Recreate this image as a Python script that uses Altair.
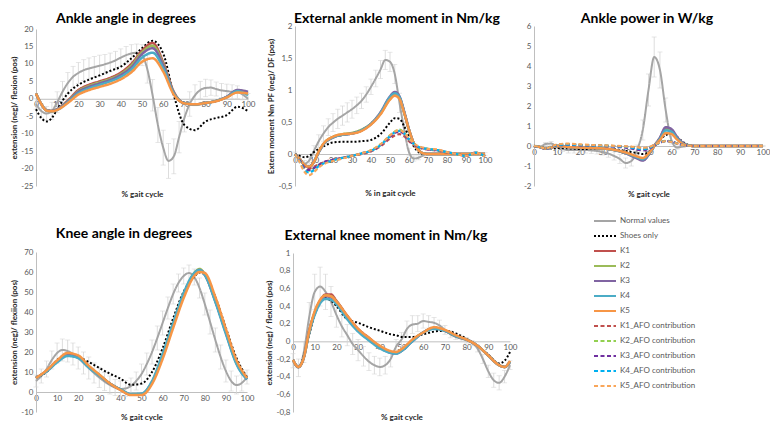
import altair as alt
import pandas as pd

# ---------------------------------------------------------------- data
SERIES = ["Normal values", "Shoes only", "K1", "K2", "K3", "K4", "K5",
          "K1_AFO contribution", "K2_AFO contribution", "K3_AFO contribution",
          "K4_AFO contribution", "K5_AFO contribution"]
K_NAMES = ["K1", "K2", "K3", "K4", "K5"]
AFO_NAMES = ["K1_AFO contribution", "K2_AFO contribution", "K3_AFO contribution",
             "K4_AFO contribution", "K5_AFO contribution"]

X_TICKS = [0, 10, 20, 30, 40, 50, 60, 70, 80, 90, 100]
X_NORMAL = [0, 2.5, 5, 7.5, 10, 12.5, 15, 17.5, 20, 22.5, 25, 27.5, 30, 32.5, 35, 37.5,
            40, 42.5, 45, 47.5, 50, 52.5, 55, 57.5, 60, 62.5, 65, 67.5, 70, 72.5, 75,
            77.5, 80, 82.5, 85, 87.5, 90, 92.5, 95, 97.5, 100]

# --- Ankle angle in degrees
AA_YTICKS = [-25, -20, -15, -10, -5, 0, 5, 10, 15, 20]
AA_NORMAL = [-1.5, -3.5, -4.2, -3.5, -1.0, 2.0, 4.5, 6.3, 7.4, 8.2, 8.7, 9.1, 9.5, 9.9, 10.4,
             11.0, 11.8, 12.5, 13.0, 13.2, 12.5, 8.5, 1.0, -7.5, -14.0, -17.8, -16.5, -11.0,
             -5.5, -1.5, 1.0, 2.5, 3.1, 3.2, 2.8, 2.4, 2.2, 2.0, 1.9, 1.2, 0.0]
AA_SD = [1.5, 2, 2, 2.5, 3, 3, 3, 3, 3, 3, 3, 3, 3, 2.8, 2.7, 2.6, 2.5, 2.5, 2.5, 2.5, 3, 4,
         4.5, 5, 5, 5, 5, 4.5, 4, 3.5, 3, 2.5, 2.5, 2.2, 2, 2, 2, 2, 1.8, 1.5, 1.5]
AA_X = [0, 2.5, 5, 7.5, 10, 15, 20, 25, 30, 35, 40, 45, 50, 55, 60, 65, 70, 75, 80, 85, 90, 95, 100]
AA_SHOES = [-3.0, -5.5, -6.5, -5.5, -3.0, 1.5, 4.0, 5.5, 6.7, 8.0, 9.2, 11.6, 14.5, 16.6, 13.0,
            1.0, -7.5, -9.0, -6.5, -5.5, -4.7, -2.3, -3.5]
AA_K1 = [1.5, -1.5, -3.3, -3.5, -3.0, -0.5, 2.5, 4.0, 5.0, 6.0, 7.5, 10.0, 13.8, 16.0, 10.5, 2.0,
         -1.3, -1.6, -1.2, -0.6, 0.5, 2.2, 1.5]
AA_K2 = [1.5, -1.5, -3.3, -3.5, -3.0, -0.7, 2.2, 3.7, 4.7, 5.7, 7.1, 9.5, 13.3, 15.2, 10.0, 1.8,
         -1.3, -1.6, -1.2, -0.6, 0.5, 2.3, 1.8]
AA_K3 = [1.5, -1.5, -3.3, -3.5, -3.0, -0.8, 2.0, 3.4, 4.4, 5.4, 6.8, 9.0, 12.8, 14.5, 9.6, 1.7,
         -1.3, -1.6, -1.2, -0.6, 0.6, 2.5, 2.0]
AA_K4 = [1.5, -1.5, -3.4, -3.6, -3.2, -1.0, 1.6, 3.0, 4.0, 5.0, 6.3, 8.4, 11.8, 13.2, 8.8, 1.5,
         -1.3, -1.6, -1.2, -0.6, 0.5, 2.2, 1.0]
AA_K5 = [1.5, -1.5, -3.4, -3.6, -3.2, -1.2, 1.2, 2.5, 3.4, 4.3, 5.6, 7.6, 10.6, 11.6, 7.8, 1.2,
         -1.3, -1.6, -1.2, -0.7, 0.4, 1.8, 1.5]

# --- External ankle moment in Nm/kg
AM_YTICKS = [-0.5, 0, 0.5, 1, 1.5, 2]
AM_NORMAL = [0, -0.08, -0.15, -0.1, 0.05, 0.2, 0.32, 0.42, 0.49, 0.55, 0.6, 0.65, 0.7, 0.76,
             0.83, 0.93, 1.05, 1.18, 1.32, 1.47, 1.44, 1.25, 0.8, 0.38, 0.03, -0.07, -0.06,
             -0.02, 0, 0, 0, 0, 0, 0, 0, 0, 0, 0, 0, 0, 0]
AM_SD = [0.03, 0.05, 0.05, 0.06, 0.08, 0.1, 0.12, 0.13, 0.14, 0.15, 0.15, 0.15, 0.14, 0.13,
         0.12, 0.12, 0.12, 0.13, 0.14, 0.15, 0.15, 0.15, 0.15, 0.12, 0.06, 0.04, 0.03, 0.02,
         0.02, 0.02, 0.02, 0.02, 0.02, 0.02, 0.02, 0.02, 0.02, 0.02, 0.02, 0.02, 0.02]
AM_X = [0, 2.5, 5, 7.5, 10, 12.5, 15, 20, 25, 30, 35, 40, 45, 50, 52.5, 55, 57.5, 60, 62.5,
        65, 67.5, 70, 75, 80, 85, 90, 95, 100]
AM_SHOES = [0, -0.03, -0.05, -0.03, 0.03, 0.08, 0.12, 0.18, 0.19, 0.19, 0.2, 0.22, 0.31, 0.49,
            0.56, 0.55, 0.43, 0.27, 0.12, 0.03, 0.0, 0, 0, 0, 0, 0, 0, 0]
AM_K1 = [0, -0.08, -0.17, -0.2, -0.12, 0.03, 0.15, 0.26, 0.3, 0.32, 0.37, 0.47, 0.64, 0.88,
         0.95, 0.88, 0.65, 0.38, 0.17, 0.06, 0.01, 0, 0, 0, 0, 0, 0, 0]
AM_K2 = [0, -0.08, -0.17, -0.2, -0.12, 0.04, 0.16, 0.27, 0.31, 0.33, 0.38, 0.47, 0.63, 0.86,
         0.93, 0.87, 0.64, 0.37, 0.17, 0.06, 0.01, 0, 0, 0, 0, 0, 0, 0]
AM_K3 = [0, -0.08, -0.17, -0.2, -0.12, 0.03, 0.15, 0.26, 0.3, 0.32, 0.37, 0.47, 0.65, 0.9,
         0.97, 0.9, 0.66, 0.38, 0.17, 0.06, 0.01, 0, 0, 0, 0, 0, 0, 0]
AM_K4 = [0, -0.08, -0.17, -0.2, -0.12, 0.03, 0.15, 0.26, 0.3, 0.32, 0.37, 0.47, 0.64, 0.89,
         0.95, 0.89, 0.65, 0.38, 0.17, 0.06, 0.01, 0, 0, 0, 0, 0, 0, 0]
AM_K5 = [0, -0.08, -0.17, -0.2, -0.12, 0.04, 0.16, 0.27, 0.31, 0.32, 0.36, 0.46, 0.62, 0.85,
         0.91, 0.86, 0.64, 0.38, 0.17, 0.06, 0.01, 0, 0, 0, 0, 0, 0, 0]
AM_AFO1 = [0, -0.1, -0.2, -0.23, -0.2, -0.16, -0.13, -0.09, -0.06, -0.03, 0.0, 0.04, 0.12, 0.24,
           0.29, 0.31, 0.28, 0.2, 0.14, 0.1, 0.08, 0.07, 0.05, 0.02, 0.0, -0.03, 0.02, -0.04]
AM_AFO2 = [0, -0.1, -0.22, -0.26, -0.22, -0.17, -0.14, -0.1, -0.06, -0.03, 0.01, 0.06, 0.15,
           0.29, 0.35, 0.38, 0.33, 0.24, 0.16, 0.11, 0.09, 0.08, 0.06, 0.03, 0.0, -0.03, 0.02, -0.04]
AM_AFO3 = [0, -0.1, -0.22, -0.25, -0.22, -0.17, -0.13, -0.09, -0.06, -0.03, 0.01, 0.05, 0.14,
           0.27, 0.33, 0.35, 0.31, 0.22, 0.15, 0.11, 0.09, 0.07, 0.06, 0.03, 0.0, -0.03, 0.02, -0.04]
AM_AFO4 = [0, -0.12, -0.25, -0.29, -0.25, -0.19, -0.15, -0.1, -0.06, -0.03, 0.01, 0.05, 0.14,
           0.28, 0.34, 0.36, 0.32, 0.23, 0.16, 0.11, 0.09, 0.08, 0.06, 0.03, 0.0, -0.03, 0.02, -0.04]
AM_AFO5 = [0, -0.13, -0.28, -0.33, -0.28, -0.21, -0.16, -0.11, -0.07, -0.03, 0.01, 0.06, 0.15,
           0.29, 0.35, 0.37, 0.33, 0.24, 0.17, 0.12, 0.1, 0.08, 0.07, 0.03, 0.0, -0.03, 0.02, -0.04]

# --- Ankle power in W/kg
AP_YTICKS = [-2, -1, 0, 1, 2, 3, 4, 5, 6]
AP_NORMAL = [0, -0.05, 0.1, 0.12, -0.05, -0.15, -0.2, -0.2, -0.2, -0.2, -0.22, -0.25, -0.3,
             -0.38, -0.5, -0.65, -0.85, -0.75, -0.2, 0.8, 2.8, 4.45, 3.8, 1.8, 0.3, -0.08,
             -0.02, 0, 0, 0, 0, 0, 0, 0, 0, 0, 0, 0, 0, 0, 0]
AP_SD = [0.05, 0.05, 0.08, 0.1, 0.1, 0.12, 0.15, 0.15, 0.15, 0.15, 0.15, 0.15, 0.15, 0.18, 0.2,
         0.22, 0.25, 0.25, 0.25, 0.5, 0.8, 1.0, 0.9, 0.6, 0.2, 0.08, 0.05, 0.03, 0.03, 0.03,
         0.03, 0.03, 0.03, 0.03, 0.03, 0.03, 0.03, 0.03, 0.03, 0.03, 0.03]
AP_X = [0, 2.5, 5, 7.5, 10, 15, 20, 25, 30, 35, 40, 45, 47.5, 50, 52.5, 55, 57.5, 60, 62.5,
        65, 67.5, 70, 80, 90, 100]
AP_SHOES = [0, -0.05, -0.1, -0.12, -0.1, -0.12, -0.15, -0.15, -0.12, -0.15, -0.25, -0.35, -0.4,
            -0.3, 0.0, 0.3, 0.55, 0.6, 0.45, 0.2, 0.05, 0, 0, 0, 0]
AP_K1 = [0, -0.05, -0.12, -0.08, 0.0, -0.05, -0.08, -0.1, -0.12, -0.2, -0.35, -0.6, -0.7,
         -0.44, 0.0, 0.4, 0.88, 0.8, 0.42, 0.14, 0.03, 0, 0, 0, 0]
AP_K2 = [0, -0.05, -0.12, -0.08, 0.0, -0.05, -0.08, -0.1, -0.12, -0.2, -0.35, -0.58, -0.68,
         -0.43, 0.0, 0.38, 0.83, 0.76, 0.4, 0.13, 0.03, 0, 0, 0, 0]
AP_K3 = [0, -0.05, -0.12, -0.08, 0.0, -0.05, -0.08, -0.1, -0.12, -0.2, -0.36, -0.62, -0.73,
         -0.45, 0.0, 0.42, 0.94, 0.85, 0.45, 0.15, 0.03, 0, 0, 0, 0]
AP_K4 = [0, -0.05, -0.12, -0.08, 0.0, -0.05, -0.08, -0.1, -0.12, -0.2, -0.34, -0.57, -0.66,
         -0.42, 0.0, 0.36, 0.78, 0.72, 0.38, 0.12, 0.03, 0, 0, 0, 0]
AP_K5 = [0, -0.05, -0.12, -0.08, 0.0, -0.05, -0.08, -0.1, -0.12, -0.19, -0.32, -0.52, -0.6,
         -0.38, 0.0, 0.3, 0.64, 0.6, 0.32, 0.1, 0.02, 0, 0, 0, 0]
AP_AFO1 = [0, -0.05, -0.12, -0.05, 0.05, 0.08, 0.05, 0.03, 0.02, 0.0, -0.03, -0.08, -0.12,
           -0.08, 0.05, 0.18, 0.25, 0.22, 0.12, 0.05, 0.02, 0, 0, 0, 0]
AP_AFO2 = [0, -0.05, -0.12, -0.05, 0.05, 0.1, 0.06, 0.03, 0.02, 0.0, -0.04, -0.1, -0.14,
           -0.1, 0.04, 0.18, 0.26, 0.23, 0.12, 0.05, 0.02, 0, 0, 0, 0]
AP_AFO3 = [0, -0.06, -0.14, -0.07, 0.03, 0.05, 0.03, 0.02, 0.0, -0.03, -0.08, -0.18, -0.22,
           -0.15, 0.02, 0.16, 0.25, 0.23, 0.12, 0.05, 0.02, 0, 0, 0, 0]
AP_AFO4 = [0, -0.05, -0.13, -0.06, 0.04, 0.07, 0.05, 0.03, 0.01, -0.01, -0.05, -0.12, -0.16,
           -0.11, 0.04, 0.17, 0.24, 0.22, 0.12, 0.05, 0.02, 0, 0, 0, 0]
AP_AFO5 = [0, -0.05, -0.12, -0.04, 0.08, 0.12, 0.08, 0.05, 0.03, 0.01, -0.02, -0.06, -0.1,
           -0.06, 0.06, 0.18, 0.24, 0.21, 0.12, 0.05, 0.02, 0, 0, 0, 0]

# --- Knee angle in degrees
KA_YTICKS = [-10, 0, 10, 20, 30, 40, 50, 60, 70]
KA_NORMAL = [5.5, 8, 11.5, 16, 19.5, 21, 20.5, 19, 17, 14.5, 12, 9.5, 7.2, 5.2, 3.5, 2.2, 1.5,
             1.8, 3, 5.5, 9, 14, 20, 27, 34.5, 42, 49, 54.5, 58, 59.5, 57.5, 52, 44, 35, 26,
             17.5, 10.5, 5.5, 3.5, 4.5, 7.5]
KA_SD = [3, 3.5, 4, 4.5, 5, 5.5, 5.5, 5.5, 5.5, 5.5, 5.5, 5, 5, 4.5, 4.5, 4, 4, 4, 4, 4.5, 5,
         5.5, 6, 6, 6, 5.5, 5, 4.5, 4, 4, 4, 5, 5.5, 6, 6, 6, 5.5, 5, 4.5, 4, 3.5]
KA_X = [0, 5, 10, 15, 20, 25, 30, 35, 40, 45, 50, 55, 60, 65, 70, 75, 77.5, 80, 85, 90, 95, 100]
KA_SHOES = [7.5, 10.0, 16.0, 18.8, 17.6, 15.0, 12.0, 9.2, 6.7, 3.6, 4.2, 10.0, 21.8, 36.8,
            50.2, 57.7, 59.8, 58.8, 47.5, 32.0, 17.0, 7.5]
KA_K1 = [7, 10.5, 15.2, 18.8, 17.6, 12.6, 8.4, 4.2, 1.3, -1.2, -1.0, 5.0, 18.0, 33.5, 48.5,
         58.8, 60.8, 58.5, 45.5, 30.0, 15.0, 6.5]
KA_K2 = [7, 10.5, 15.3, 18.9, 17.8, 12.8, 8.6, 4.3, 1.2, -1.3, -1.1, 5.0, 18.5, 34.0, 49.0,
         59.5, 61.5, 59.0, 46.0, 30.0, 14.5, 6.5]
KA_K3 = [7, 10.5, 15.2, 18.8, 17.6, 12.6, 8.4, 4.2, 1.2, -1.3, -1.1, 4.8, 18.0, 33.5, 48.5,
         59.0, 61.0, 58.8, 45.5, 29.5, 14.5, 6.3]
KA_K4 = [7, 10.3, 14.8, 18.0, 17.0, 12.2, 8.2, 4.2, 1.4, -1.0, -0.8, 5.5, 19.0, 34.5, 49.5,
         59.5, 61.0, 58.5, 45.0, 29.0, 14.0, 6.3]
KA_K5 = [7, 10.8, 15.8, 19.5, 18.3, 13.2, 8.7, 4.3, 1.0, -1.5, -1.5, 4.0, 16.5, 32.0, 47.0,
         58.0, 60.0, 59.5, 47.5, 31.5, 16.0, 7.0]

# --- External knee moment in Nm/kg
KM_YTICKS = [-0.8, -0.6, -0.4, -0.2, 0, 0.2, 0.4, 0.6, 0.8, 1]
KM_NORMAL = [-0.22, -0.3, -0.12, 0.28, 0.56, 0.62, 0.56, 0.45, 0.3, 0.17, 0.07, -0.03, -0.1,
             -0.17, -0.23, -0.27, -0.29, -0.27, -0.2, -0.06, 0.02, 0.14, 0.19, 0.2, 0.23, 0.22,
             0.21, 0.18, 0.13, 0.08, 0.05, 0.03, 0.01, -0.02, -0.08, -0.2, -0.34, -0.44, -0.47,
             -0.4, -0.27]
KM_SD = [0.08, 0.1, 0.12, 0.16, 0.2, 0.22, 0.2, 0.17, 0.14, 0.12, 0.12, 0.12, 0.12, 0.11, 0.1,
         0.1, 0.1, 0.1, 0.09, 0.08, 0.08, 0.09, 0.1, 0.09, 0.08, 0.07, 0.06, 0.06, 0.05, 0.04,
         0.03, 0.03, 0.03, 0.03, 0.04, 0.05, 0.07, 0.08, 0.08, 0.07, 0.05]
KM_X = [0, 2.5, 5, 7.5, 10, 12.5, 15, 17.5, 20, 25, 30, 35, 40, 45, 47.5, 50, 55, 60, 65, 70,
        75, 80, 85, 90, 95, 97.5, 100]
KM_SHOES = [-0.21, -0.29, -0.16, 0.08, 0.3, 0.44, 0.49, 0.46, 0.4, 0.25, 0.21, 0.16, 0.12, 0.08,
            0.07, 0.05, 0.05, 0.08, 0.11, 0.12, 0.09, 0.03, -0.05, -0.15, -0.25, -0.22, -0.12]
KM_K1 = [-0.21, -0.29, -0.18, 0.12, 0.32, 0.46, 0.53, 0.53, 0.46, 0.29, 0.14, 0.04, -0.06,
         -0.12, -0.13, -0.1, 0.01, 0.1, 0.15, 0.12, 0.06, 0.02, -0.05, -0.16, -0.27, -0.29, -0.23]
KM_K2 = [-0.21, -0.29, -0.18, 0.12, 0.33, 0.46, 0.52, 0.51, 0.45, 0.28, 0.13, 0.03, -0.06,
         -0.12, -0.13, -0.1, 0.01, 0.1, 0.15, 0.12, 0.06, 0.02, -0.05, -0.16, -0.27, -0.29, -0.23]
KM_K3 = [-0.21, -0.29, -0.18, 0.12, 0.32, 0.45, 0.51, 0.5, 0.44, 0.27, 0.12, 0.02, -0.07,
         -0.13, -0.14, -0.11, 0.0, 0.1, 0.15, 0.12, 0.06, 0.02, -0.05, -0.16, -0.27, -0.29, -0.23]
KM_K4 = [-0.21, -0.29, -0.18, 0.1, 0.3, 0.43, 0.48, 0.47, 0.42, 0.25, 0.11, 0.01, -0.08,
         -0.13, -0.14, -0.11, 0.0, 0.1, 0.14, 0.12, 0.06, 0.02, -0.05, -0.16, -0.27, -0.29, -0.23]
KM_K5 = [-0.21, -0.29, -0.18, 0.12, 0.34, 0.47, 0.52, 0.51, 0.45, 0.29, 0.14, 0.04, -0.05,
         -0.11, -0.12, -0.09, 0.02, 0.1, 0.16, 0.13, 0.07, 0.02, -0.05, -0.16, -0.27, -0.29, -0.22]

# ---------------------------------------------------------------- style
W, H = 762, 413
FONT = "Lato"
AXIS_GRAY = "#BFBFBF"
LABEL_GRAY = "#595959"
TITLE_COL = "#262626"
ERR_GRAY = "#D4D4D4"
COLORS = ["#A5A5A5", "#000000", "#C0504D", "#9BBB59", "#8064A2", "#4BACC6", "#F79646",
          "#C0504D", "#92D050", "#7030A0", "#00B0F0", "#F9A65A"]
DASHES = [[1, 0], [2, 2], [1, 0], [1, 0], [1, 0], [1, 0], [1, 0],
          [4, 2.5], [4, 2.5], [4, 2.5], [4, 2.5], [4, 2.5]]
LABEL_EXPR = "replace(toString(datum.value), '.', ',')"

LEGEND = alt.Legend(title=None, orient="none", legendX=585, legendY=205.5,
                    direction="vertical", symbolType="stroke", symbolSize=484,
                    symbolStrokeWidth=2, clipHeight=15, rowPadding=0, padding=0,
                    labelFont=FONT, labelFontSize=8, labelColor=LABEL_GRAY,
                    labelOffset=3, labelLimit=0)
COLOR = alt.Color("series:N", scale=alt.Scale(domain=SERIES, range=COLORS), legend=LEGEND)
DASH = alt.StrokeDash("series:N", scale=alt.Scale(domain=SERIES, range=DASHES), legend=LEGEND)

PANELS = [
    dict(title="Ankle angle in degrees", tpos=(118, 15), box=(28, 240, 178, 21),
         ydom=(-25, 20), yticks=AA_YTICKS, ytitle="extension (neg)/ flexion (pos)",
         xtitle="% gait cycle", xtop=182, normal=AA_NORMAL, sd=AA_SD, grid=AA_X,
         shoes=AA_SHOES, k=[AA_K1, AA_K2, AA_K3, AA_K4, AA_K5], afo=None),
    dict(title="External ankle moment in Nm/kg", tpos=(389, 15), box=(287, 477, 178, 18),
         ydom=(-0.5, 2), yticks=AM_YTICKS, ytitle="Extern moment Nm PF (neg)/ DF (pos)",
         xtitle="% in gait cycle", xtop=181, normal=AM_NORMAL, sd=AM_SD, grid=AM_X,
         shoes=AM_SHOES, k=[AM_K1, AM_K2, AM_K3, AM_K4, AM_K5],
         afo=[AM_AFO1, AM_AFO2, AM_AFO3, AM_AFO4, AM_AFO5]),
    dict(title="Ankle power in W/kg", tpos=(639, 15), box=(526, 755, 178, 18),
         ydom=(-2, 6), yticks=AP_YTICKS, ytitle=None,
         xtitle="% gait cycle", xtop=182, normal=AP_NORMAL, sd=AP_SD, grid=AP_X,
         shoes=AP_SHOES, k=[AP_K1, AP_K2, AP_K3, AP_K4, AP_K5],
         afo=[AP_AFO1, AP_AFO2, AP_AFO3, AP_AFO4, AP_AFO5]),
    dict(title="Knee angle in degrees", tpos=(116, 230), box=(28, 239, 404, 244),
         ydom=(-10, 70), yticks=KA_YTICKS, ytitle="extension (neg)/ flexiion (pos)",
         xtitle="% gait cycle", xtop=405, normal=KA_NORMAL, sd=KA_SD, grid=KA_X,
         shoes=KA_SHOES, k=[KA_K1, KA_K2, KA_K3, KA_K4, KA_K5], afo=None),
    dict(title="External knee moment in Nm/kg", tpos=(378, 232), box=(285, 502, 404, 245),
         ydom=(-0.8, 1), yticks=KM_YTICKS, ytitle="extension (neg) / flexion (pos)",
         xtitle="% gait cycle", xtop=405, normal=KM_NORMAL, sd=KM_SD, grid=KM_X,
         shoes=KM_SHOES, k=[KM_K1, KM_K2, KM_K3, KM_K4, KM_K5], afo=None),
]


def long_df(xs, names, series_list):
    rows = []
    for name, vals in zip(names, series_list):
        for x, v in zip(xs, vals):
            rows.append({"x": x, "y": v, "series": name})
    return pd.DataFrame(rows)


def build_panel(p):
    x0, x1, yb, yt = p["box"]
    ymin, ymax = p["ydom"]
    zero = yb + (0 - ymin) / (ymax - ymin) * (yt - yb)
    xscale = alt.Scale(domain=[0, 100], range=[x0, x1], nice=False, zero=False)
    yscale = alt.Scale(domain=[ymin, ymax], range=[yb, yt], nice=False, zero=False)
    xaxis = alt.Axis(orient="bottom", offset=zero - H, values=X_TICKS, labelExpr=LABEL_EXPR,
                     labelFlush=False, labelOverlap=False, labelPadding=2, labelFont=FONT,
                     labelFontSize=8, labelColor=LABEL_GRAY, ticks=False, grid=False,
                     domainColor=AXIS_GRAY, domainWidth=1, title=p["xtitle"],
                     titleY=p["xtop"] - zero, titleBaseline="top", titleFont=FONT,
                     titleFontSize=8, titleFontWeight="bold", titleColor=TITLE_COL)
    yaxis = alt.Axis(orient="left", offset=-x0, values=p["yticks"], labelExpr=LABEL_EXPR,
                     labelOverlap=False, labelPadding=3, labelFont=FONT, labelFontSize=8,
                     labelColor=LABEL_GRAY, ticks=False, grid=False, domainColor=AXIS_GRAY,
                     domainWidth=1, title=p["ytitle"], titlePadding=2, titleFont=FONT,
                     titleFontSize=8, titleFontWeight="bold", titleColor=TITLE_COL)

    def X():
        return alt.X("x:Q", scale=xscale, axis=xaxis)

    def Y(field):
        return alt.Y(f"{field}:Q", scale=yscale, axis=yaxis)

    err = pd.DataFrame({"x": X_NORMAL,
                        "lo": [m - s for m, s in zip(p["normal"], p["sd"])],
                        "hi": [m + s for m, s in zip(p["normal"], p["sd"])]})
    bars = alt.Chart(err).mark_rule(color=ERR_GRAY, strokeWidth=0.8).encode(
        x=X(), y=Y("lo"), y2=alt.Y2("hi:Q"))
    cap_lo = alt.Chart(err).mark_tick(orient="horizontal", size=5, thickness=0.8,
                                      color=ERR_GRAY).encode(x=X(), y=Y("lo"))
    cap_hi = alt.Chart(err).mark_tick(orient="horizontal", size=5, thickness=0.8,
                                      color=ERR_GRAY).encode(x=X(), y=Y("hi"))

    def lines(df, width):
        return alt.Chart(df).mark_line(interpolate="monotone", strokeWidth=width).encode(
            x=X(), y=Y("y"), color=COLOR, strokeDash=DASH)

    layers = [bars, cap_lo, cap_hi,
              lines(long_df(X_NORMAL, ["Normal values"], [p["normal"]]), 2),
              lines(long_df(p["grid"], ["Shoes only"], [p["shoes"]]), 2),
              lines(long_df(p["grid"], K_NAMES, p["k"]), 2.5)]
    if p["afo"] is not None:
        layers.append(lines(long_df(p["grid"], AFO_NAMES, p["afo"]), 2.2))
    return alt.layer(*layers)


def build_title(p):
    cx, by = p["tpos"]
    return alt.Chart(pd.DataFrame({"t": [p["title"]]})).mark_text(
        font=FONT, fontSize=14, fontWeight="bold", align="center", baseline="alphabetic",
        color="#000000").encode(text="t:N", x=alt.value(cx), y=alt.value(by))


chart = alt.layer(
    *[build_panel(p) for p in PANELS],
    *[build_title(p) for p in PANELS],
).resolve_scale(x="independent", y="independent").properties(
    width=W, height=H, autosize=alt.AutoSizeParams(type="none"), padding=0,
).configure_view(stroke=None)

chart.save("out.html", embed_options={"renderer": "svg", "actions": False})
